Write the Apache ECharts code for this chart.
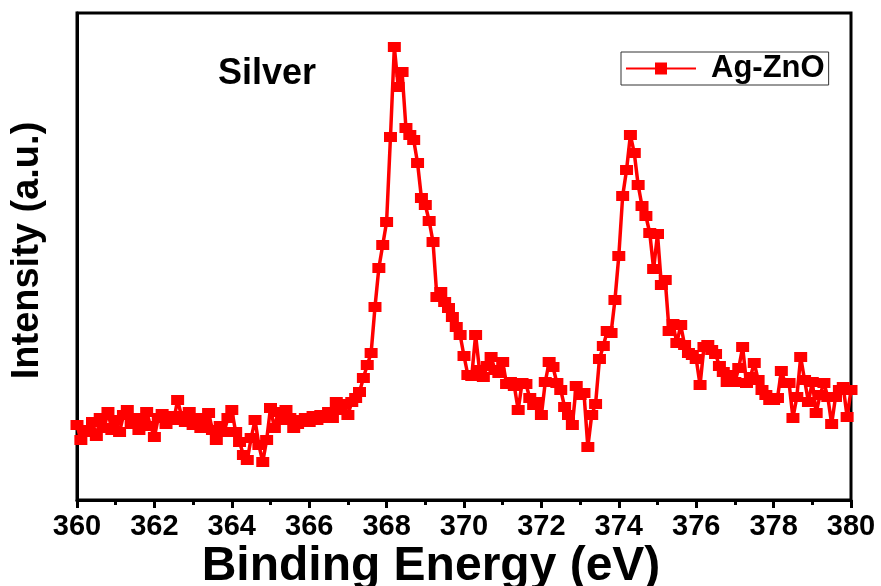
<!DOCTYPE html>
<html>
<head>
<meta charset="utf-8">
<script src="https://cdn.jsdelivr.net/npm/echarts@6/dist/echarts.min.js"></script>
<style>html,body{margin:0;padding:0;background:#fff}#c{width:881px;height:586px}</style>
</head>
<body>
<div id="c"></div>
<script>
// Binding energy (eV), 0.1 eV steps
var energy = [
360.0,360.1,360.2,360.3,360.4,360.5,360.6,360.7,360.8,360.9,
361.0,361.1,361.2,361.3,361.4,361.5,361.6,361.7,361.8,361.9,
362.0,362.1,362.2,362.3,362.4,362.5,362.6,362.7,362.8,362.9,
363.0,363.1,363.2,363.3,363.4,363.5,363.6,363.7,363.8,363.9,
364.0,364.1,364.2,364.3,364.4,364.5,364.6,364.7,364.8,364.9,
365.0,365.1,365.2,365.3,365.4,365.5,365.6,365.7,365.8,365.9,
366.0,366.1,366.2,366.3,366.4,366.5,366.6,366.7,366.8,366.9,
367.0,367.1,367.2,367.3,367.4,367.5,367.6,367.7,367.8,367.9,
368.0,368.1,368.2,368.3,368.4,368.5,368.6,368.7,368.8,368.9,
369.0,369.1,369.2,369.3,369.4,369.5,369.6,369.7,369.8,369.9,
370.0,370.1,370.2,370.3,370.4,370.5,370.6,370.7,370.8,370.9,
371.0,371.1,371.2,371.3,371.4,371.5,371.6,371.7,371.8,371.9,
372.0,372.1,372.2,372.3,372.4,372.5,372.6,372.7,372.8,372.9,
373.0,373.1,373.2,373.3,373.4,373.5,373.6,373.7,373.8,373.9,
374.0,374.1,374.2,374.3,374.4,374.5,374.6,374.7,374.8,374.9,
375.0,375.1,375.2,375.3,375.4,375.5,375.6,375.7,375.8,375.9,
376.0,376.1,376.2,376.3,376.4,376.5,376.6,376.7,376.8,376.9,
377.0,377.1,377.2,377.3,377.4,377.5,377.6,377.7,377.8,377.9,
378.0,378.1,378.2,378.3,378.4,378.5,378.6,378.7,378.8,378.9,
379.0,379.1,379.2,379.3,379.4,379.5,379.6,379.7,379.8,379.9,
380.0
];
// Intensity (a.u.)
var intensity = [
75,60,70,68,78,64,82,72,88,70,
80,68,85,90,76,82,70,80,88,74,
63,82,86,76,84,80,100,84,78,88,
75,82,72,80,87,70,60,74,68,82,
90,68,58,45,40,62,80,55,38,60,
92,72,88,80,90,82,72,76,80,82,
78,84,80,85,82,88,82,98,90,96,
85,98,102,108,122,135,147,193,232,255,
278,363,453,413,428,372,365,360,337,302,
295,279,258,203,208,198,192,183,173,165,
144,125,124,165,130,123,134,143,130,127,
138,116,118,114,90,117,116,102,95,98,
85,118,138,133,117,110,93,85,75,114,
105,107,53,85,96,141,154,169,167,200,
244,304,330,365,347,315,294,284,267,231,
266,215,220,169,176,157,175,155,147,145,
141,115,153,155,150,146,134,128,118,125,
118,132,153,117,123,137,120,110,105,100,
100,102,129,117,117,82,103,143,120,98,
118,87,105,117,103,76,103,110,113,83,
110
];
var xTicks = {min: 360, max: 380, interval: 2};
var seriesName = 'Ag-ZnO';
var xTitle = 'Binding Energy (eV)';
var yTitle = 'Intensity (a.u.)';
var note = 'Silver';

var pts = energy.map(function (e, i) { return [e, intensity[i]]; });
var FONT = "'Liberation Sans', Arial, sans-serif";

var chart = echarts.init(document.getElementById('c'), null, {renderer: 'canvas'});
chart.setOption({
  animation: false,
  backgroundColor: '#fff',
  grid: {left: 77, right: 30, top: 13, bottom: 86, show: true, borderColor: '#000', borderWidth: 3,
         containLabel: false, outerBoundsMode: 'none'},
  legend: {
    left: 621, top: 52, padding: [1, 4, 1, 4],
    borderColor: '#333', borderWidth: 1,
    itemWidth: 70, itemHeight: 15,
    textStyle: {fontFamily: FONT, fontWeight: 'bold', fontSize: 31, lineHeight: 29, color: '#000', padding: [0, 0, 0, 10]},
    data: [seriesName]
  },
  graphic: [{
    type: 'text', left: 218, top: 56,
    style: {text: note, fontFamily: FONT, fontWeight: 'bold', fontSize: 36, fill: '#000'}
  }, {
    type: 'text', x: 431, y: 543,
    style: {text: xTitle, fontFamily: FONT, fontWeight: 'bold', fontSize: 48, fill: '#000',
            align: 'center', verticalAlign: 'top'}
  }],
  xAxis: {
    type: 'value', min: xTicks.min, max: xTicks.max, interval: xTicks.interval,
    axisLine: {show: true, lineStyle: {color: '#000', width: 3}},
    axisTick: {show: true, length: 8, lineStyle: {color: '#000', width: 3}},
    minorTick: {show: true, splitNumber: 2, length: 5, lineStyle: {color: '#000', width: 3}},
    axisLabel: {margin: 12, fontFamily: FONT, fontWeight: 'bold', fontSize: 29, color: '#000'},
    splitLine: {show: false}
  },
  yAxis: {
    type: 'value', min: 0, max: 487,
    name: yTitle, nameLocation: 'middle', nameGap: 30,
    nameTextStyle: {fontFamily: FONT, fontWeight: 'bold', fontSize: 38, color: '#000', padding: [0, 0, 0, 12]},
    axisLine: {show: true, lineStyle: {color: '#000', width: 3}},
    axisTick: {show: false}, axisLabel: {show: false}, splitLine: {show: false}
  },
  series: [{
    name: seriesName, type: 'line', data: pts,
    symbol: 'rect', symbolSize: [13, 10],
    lineStyle: {color: '#ff0000', width: 3.5},
    itemStyle: {color: '#ff0000'},
    clip: false
  }]
});
</script>
</body>
</html>
